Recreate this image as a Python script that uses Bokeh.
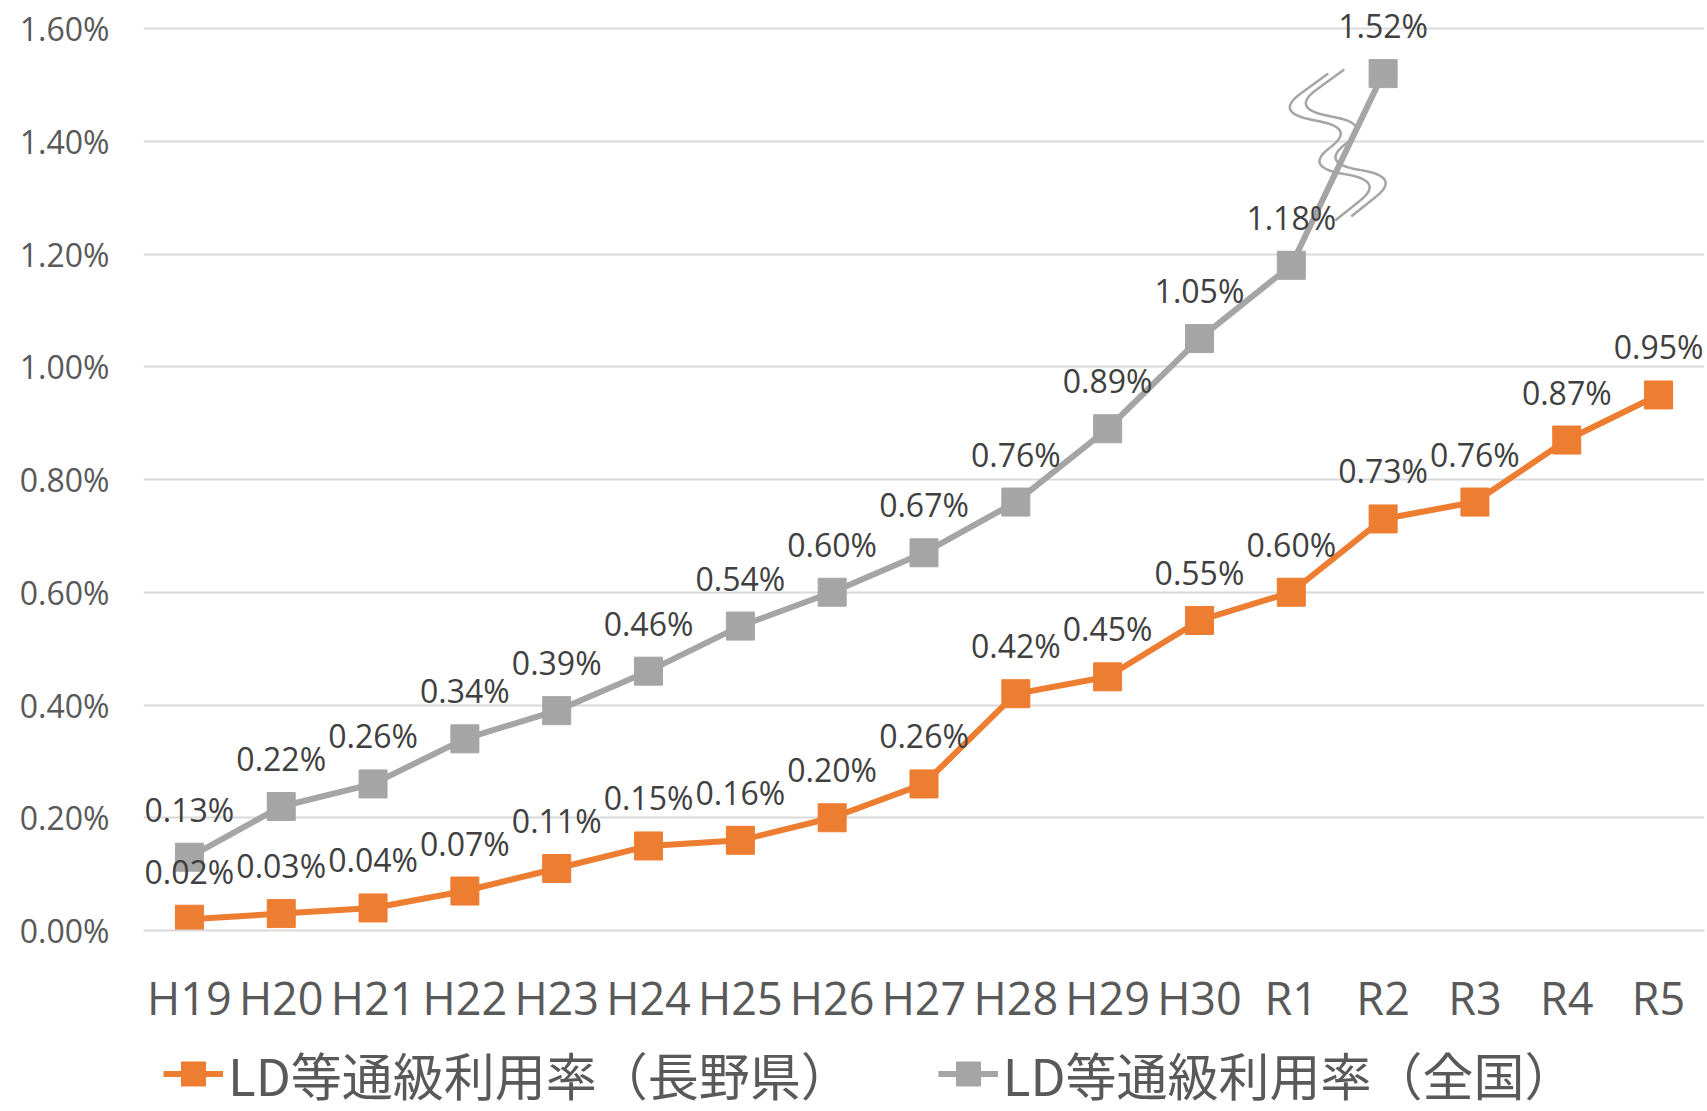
from bokeh.plotting import figure
from bokeh.layouts import column
from bokeh.models import Range1d, FixedTicker, PrintfTickFormatter, Legend, LegendItem
from bokeh.embed import file_html
from bokeh.resources import INLINE
from bokeh.core.properties import value

# ---- data ----
years = ["H19", "H20", "H21", "H22", "H23", "H24", "H25", "H26", "H27",
         "H28", "H29", "H30", "R1", "R2", "R3", "R4", "R5"]
nagano = [0.02, 0.03, 0.04, 0.07, 0.11, 0.15, 0.16, 0.20, 0.26,
          0.42, 0.45, 0.55, 0.60, 0.73, 0.76, 0.87, 0.95]
national = [0.13, 0.22, 0.26, 0.34, 0.39, 0.46, 0.54, 0.60, 0.67,
            0.76, 0.89, 1.05, 1.18, 1.52]
national_years = years[:len(national)]
y_ticks = [0.0, 0.2, 0.4, 0.6, 0.8, 1.0, 1.2, 1.4, 1.6]
label_nagano = "LD等通級利用率（長野県）"
label_national = "LD等通級利用率（全国）"

ORANGE = "#ED7D31"
GRAY = "#A5A5A5"

# ---- layout ----
W = 1707
H_MAIN, H_LEG = 1030, 81
LEFT, RIGHT, TOP, BOTTOM = 143, 3, 0, 100
frame_h = H_MAIN - TOP - BOTTOM
frame_w = W - LEFT - RIGHT
y_end = y_ticks[-1] * frame_h / (frame_h - 28)

p = figure(width=W, height=H_MAIN, x_range=years, y_range=Range1d(0, y_end),
           output_backend="svg", toolbar_location=None,
           min_border_left=LEFT, min_border_right=RIGHT,
           min_border_top=TOP, min_border_bottom=BOTTOM)
p.outline_line_color = None
p.background_fill_color = "white"
p.border_fill_color = "white"

p.xgrid.grid_line_color = None
p.ygrid.grid_line_color = "#D9D9D9"
p.ygrid.grid_line_width = 2
p.yaxis.ticker = FixedTicker(ticks=y_ticks)
p.yaxis.formatter = PrintfTickFormatter(format="%.2f%%")
p.yaxis.axis_line_color = None
p.yaxis.major_tick_line_color = None
p.yaxis.minor_tick_line_color = None
p.yaxis.major_label_standoff = 28
p.yaxis.major_label_text_font = "Open Sans"
p.yaxis.major_label_text_font_size = "32px"
p.yaxis.major_label_text_color = "#595959"

p.xaxis.axis_line_color = "#D9D9D9"
p.xaxis.axis_line_width = 2
p.xaxis.major_tick_line_color = None
p.xaxis.minor_tick_line_color = None
p.xaxis.major_label_standoff = 30
p.xaxis.major_label_text_font = "Open Sans"
p.xaxis.major_label_text_font_size = "45px"
p.xaxis.major_label_text_color = "#595959"

# ---- series ----
p.line(national_years, national, line_width=6, color=GRAY)
p.scatter(national_years, national, marker="square", size=28, color=GRAY)
p.line(years, nagano, line_width=6, color=ORANGE)
p.scatter(years, nagano, marker="square", size=28, color=ORANGE)

# ---- break mark on R1-R2 segment of national series ----
px_x = frame_w / len(years)          # px per category
px_y = frame_h / y_end               # px per 1 %
i1 = years.index("R1")
ax = i1 + 1.0                        # midpoint between R1 and R2 centres
ay = (national[i1] + national[i1 + 1]) / 2
shape = [(-9, -96), (-64, -56), (20, -42), (-34, -2), (48, 11), (-2, 51)]
for dx0, dy0 in [(0, 0), (16, -4)]:
    pts = [(ax + (dx + dx0) / px_x, ay - (dy + dy0) / px_y) for dx, dy in shape]
    mids = [((pts[k][0] + pts[k + 1][0]) / 2, (pts[k][1] + pts[k + 1][1]) / 2)
            for k in range(len(pts) - 1)]
    p.segment(x0=[pts[0][0], mids[-1][0]], y0=[pts[0][1], mids[-1][1]],
              x1=[mids[0][0], pts[-1][0]], y1=[mids[0][1], pts[-1][1]],
              line_color=GRAY, line_width=2.5)
    p.quadratic(x0=[m[0] for m in mids[:-1]], y0=[m[1] for m in mids[:-1]],
                x1=[m[0] for m in mids[1:]], y1=[m[1] for m in mids[1:]],
                cx=[q[0] for q in pts[1:-1]], cy=[q[1] for q in pts[1:-1]],
                line_color=GRAY, line_width=2.5)

# ---- data labels ----
for xs, ys in [(national_years, national), (years, nagano)]:
    p.text(x=xs, y=ys, text=[f"{v:.2f}%" for v in ys],
           text_font=value("Open Sans"), text_font_size="32px",
           text_color="#404040", text_align="center", text_baseline="middle",
           y_offset=-48)

# ---- legend row (separate figure so it is not clipped) ----
q = figure(width=W, height=H_LEG, x_range=Range1d(0, 1), y_range=Range1d(0, 1),
           output_backend="svg", toolbar_location=None,
           min_border_left=0, min_border_right=0, min_border_top=0, min_border_bottom=0)
q.axis.visible = False
q.grid.visible = False
q.outline_line_color = None
q.border_fill_color = "white"
nan = float("nan")
ln1 = q.line([nan], [nan], line_width=6, color=ORANGE)
sc1 = q.scatter([nan], [nan], marker="square", size=28, color=ORANGE)
ln2 = q.line([nan], [nan], line_width=6, color=GRAY)
sc2 = q.scatter([nan], [nan], marker="square", size=28, color=GRAY)
legend = Legend(items=[LegendItem(label=label_nagano, renderers=[ln1, sc1]),
                       LegendItem(label=label_national, renderers=[ln2, sc2])],
                orientation="horizontal", location=(20, 0),
                label_text_font="Noto Sans CJK JP", label_text_font_size="51px",
                label_text_color="#595959", glyph_width=60, glyph_height=75,
                label_height=50, label_standoff=5, spacing=86, padding=0, margin=0,
                border_line_color=None, background_fill_alpha=0)
q.add_layout(legend)

open("out.html", "w").write(file_html(column(p, q, spacing=0), INLINE))
